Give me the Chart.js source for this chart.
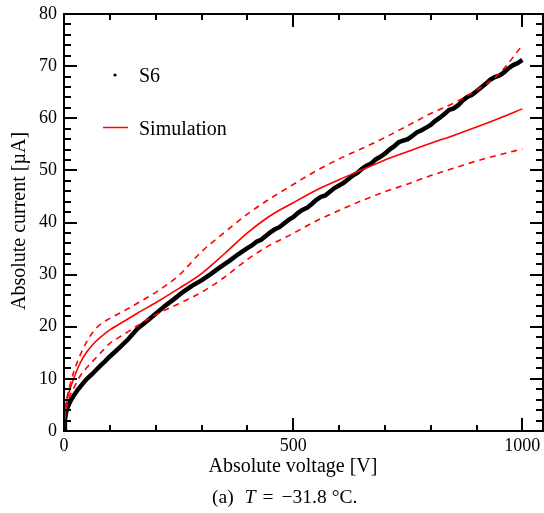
<!DOCTYPE html>
<html>
<head>
<meta charset="utf-8">
<script src="https://cdn.jsdelivr.net/npm/chart.js@4"></script>
<style>
  html, body { margin: 0; padding: 0; background: #fff; }
  #wrap { position: relative; width: 544px; height: 513px; }
  #caption {
    position: absolute; left: 212px; top: 486px; white-space: nowrap;
    font: 19.5px "Liberation Serif", serif; color: #000;
  }
  #caption span { display: inline-block; }
</style>
</head>
<body>
<div id="wrap">
  <canvas id="iv-chart" width="544" height="513"></canvas>
  <div id="caption"><span>(a)</span><span style="margin-left:11px"><i>T</i></span><span style="margin-left:7px">=</span><span style="margin-left:8px">−31.8</span><span style="margin-left:5px">°C.</span></div>
</div>
<script>
// 测量数据 S6
const s6Voltage = [0, 2, 5, 10, 15, 20, 30, 40, 50, 60, 70, 80, 90, 100,
  120, 140, 160, 180, 200, 220, 240, 260, 280, 300, 320, 340, 360, 380,
  400, 410, 420, 430, 440, 450, 460, 470, 480, 490, 500, 510, 520, 530, 540, 550,
  560, 570, 580, 590, 600, 610, 620, 630, 640, 650, 660, 670, 680, 690, 700,
  710, 720, 730, 740, 750, 760, 770, 780, 790, 800, 810, 820, 830, 840, 850,
  860, 870, 880, 890, 900, 910, 920, 930, 940, 950, 960, 970, 980, 990, 1000];
const s6Current = [0, 2.2, 3.8, 5.0, 5.9, 6.6, 7.9, 9.0, 10.0, 10.8, 11.7, 12.6, 13.4, 14.3,
  15.9, 17.6, 19.6, 21.0, 22.5, 24.0, 25.3, 26.7, 27.9, 28.9, 30.1, 31.4, 32.6, 33.9,
  35.1, 35.6, 36.3, 36.7, 37.4, 38.1, 38.7, 39.1, 39.8, 40.5, 41.0, 41.8, 42.4, 42.8, 43.5, 44.3,
  44.9, 45.2, 45.9, 46.6, 47.1, 47.6, 48.3, 49.0, 49.5, 50.3, 50.9, 51.3, 52.1, 52.6, 53.2,
  54.0, 54.6, 55.4, 55.7, 56.0, 56.6, 57.3, 57.7, 58.2, 58.7, 59.5, 60.1, 60.8, 61.6, 61.9,
  62.5, 63.4, 64.1, 64.5, 65.2, 65.9, 66.6, 67.4, 67.9, 68.2, 68.8, 69.6, 70.2, 70.6, 71.2];

// 仿真曲线（中心值与上下界）
const simVoltage = [0, 3, 8, 13, 20, 35, 50, 65, 80, 100, 130, 160, 200, 250, 300,
  350, 400, 450, 500, 550, 600, 650, 700, 750, 800, 850, 900, 950, 1000];
const simCurrent = [0, 4.0, 6.5, 8.0, 9.8, 13.0, 15.2, 16.8, 18.0, 19.4, 21.0, 22.6, 24.6, 27.3, 30.2,
  34.0, 38.0, 41.3, 43.8, 46.2, 48.2, 50.1, 52.0, 53.6, 55.2, 56.7, 58.3, 60.0, 61.8];
const simUpper = [0, 4.5, 7.0, 8.8, 11.0, 14.5, 17.2, 19.2, 20.5, 21.6, 23.0, 24.5, 26.6, 29.8, 34.4,
  38.1, 41.6, 44.6, 47.3, 49.9, 52.2, 54.2, 56.3, 58.6, 60.9, 62.9, 65.4, 68.6, 74.0];
const simLower = [0, 3.0, 5.3, 6.8, 8.0, 10.5, 12.2, 13.6, 15.0, 16.8, 18.5, 20.2, 22.3, 24.4, 26.6,
  29.5, 32.9, 35.7, 37.9, 40.3, 42.3, 44.2, 45.9, 47.4, 49.0, 50.4, 51.8, 53.0, 54.1];

// 刻度
const xTicks = [0, 100, 200, 300, 400, 500, 600, 700, 800, 900, 1000];
const xLabel = 'Absolute voltage [V]';
const yLabel = 'Absolute current [µA]';
const FONT = '"Liberation Serif", "Times New Roman", serif';

const toXY = (xs, ys) => xs.map((v, i) => ({ x: v, y: ys[i] }));

// 边框、内向刻度、轴标题和图例
const frame = {
  id: 'frame',
  afterDatasetsDraw(chart) {
    const { ctx, chartArea: a, scales: { x, y } } = chart;
    ctx.save();
    ctx.strokeStyle = '#000';
    ctx.lineWidth = 2;
    ctx.beginPath();
    x.ticks.forEach(t => {
      if (t.value === 0) return;
      const px = Math.round(x.getPixelForValue(t.value));
      const len = t.value % 500 === 0 ? 13 : 6;
      ctx.moveTo(px, a.bottom); ctx.lineTo(px, a.bottom - len);
      ctx.moveTo(px, a.top); ctx.lineTo(px, a.top + len);
    });
    y.ticks.forEach(t => {
      if (t.value === 0 || t.value === 80) return;
      const py = Math.round(y.getPixelForValue(t.value));
      const len = t.value % 10 === 0 ? 13 : 7;
      ctx.moveTo(a.left, py); ctx.lineTo(a.left + len, py);
      ctx.moveTo(a.right, py); ctx.lineTo(a.right - len, py);
    });
    ctx.stroke();
    ctx.strokeRect(a.left, a.top, a.right - a.left, a.bottom - a.top);

    // 轴标题
    ctx.fillStyle = '#000';
    ctx.font = '20px ' + FONT;
    ctx.textAlign = 'center';
    ctx.textBaseline = 'middle';
    ctx.fillText(xLabel, 293, 467);
    ctx.save();
    ctx.translate(20, 221);
    ctx.rotate(-Math.PI / 2);
    ctx.fillText(yLabel, 0, 0);
    ctx.restore();

    // 图例
    const ds = chart.data.datasets;
    ctx.textAlign = 'left';
    ctx.beginPath();
    ctx.arc(a.left + 51, a.top + 61, 1.6, 0, Math.PI * 2);
    ctx.fill();
    ctx.fillText(ds[3].label, a.left + 75, a.top + 63);
    ctx.strokeStyle = '#ff0000';
    ctx.lineWidth = 1.5;
    ctx.beginPath();
    ctx.moveTo(a.left + 39, a.top + 113.5);
    ctx.lineTo(a.left + 64, a.top + 113.5);
    ctx.stroke();
    ctx.fillText(ds[0].label, a.left + 75, a.top + 116);
    ctx.restore();
  }
};

new Chart(document.getElementById('iv-chart'), {
  type: 'line',
  data: {
    datasets: [
      { label: 'Simulation', data: toXY(simVoltage, simCurrent), borderColor: '#ff0000',
        borderWidth: 1.6, pointRadius: 0, cubicInterpolationMode: 'monotone' },
      { label: 'upper', data: toXY(simVoltage, simUpper), borderColor: '#ff0000',
        borderWidth: 1.6, borderDash: [6, 5], pointRadius: 0, cubicInterpolationMode: 'monotone' },
      { label: 'lower', data: toXY(simVoltage, simLower), borderColor: '#ff0000',
        borderWidth: 1.6, borderDash: [6, 5], pointRadius: 0, cubicInterpolationMode: 'monotone' },
      { label: 'S6', data: toXY(s6Voltage, s6Current), borderColor: '#000',
        borderWidth: 4.5, pointRadius: 0, tension: 0 }
    ]
  },
  options: {
    responsive: false,
    animation: false,
    devicePixelRatio: 1,
    layout: { padding: { top: 14, right: 1, left: 0, bottom: 0 } },
    plugins: { legend: { display: false }, tooltip: { enabled: false } },
    scales: {
      x: {
        type: 'linear', min: 0, max: 1045,
        grid: { display: false, drawTicks: false },
        border: { display: false },
        afterBuildTicks: s => { s.ticks = xTicks.map(v => ({ value: v })); },
        ticks: {
          autoSkip: false, maxRotation: 0, padding: 4,
          color: '#000', font: { family: FONT, size: 18 },
          callback: v => (v % 500 === 0 ? v : '')
        },
        afterFit: s => { s.height = 82; s.paddingLeft = 0; s.paddingRight = 0; }
      },
      y: {
        min: 0, max: 80,
        grid: { display: false, drawTicks: false },
        border: { display: false },
        ticks: {
          stepSize: 2, autoSkip: false, padding: 7,
          color: '#000', font: { family: FONT, size: 18 },
          callback: v => (v % 10 === 0 ? v : '')
        },
        afterFit: s => { s.width = 64; s.paddingTop = 0; s.paddingBottom = 0; }
      }
    }
  },
  plugins: [frame]
});
</script>
</body>
</html>
